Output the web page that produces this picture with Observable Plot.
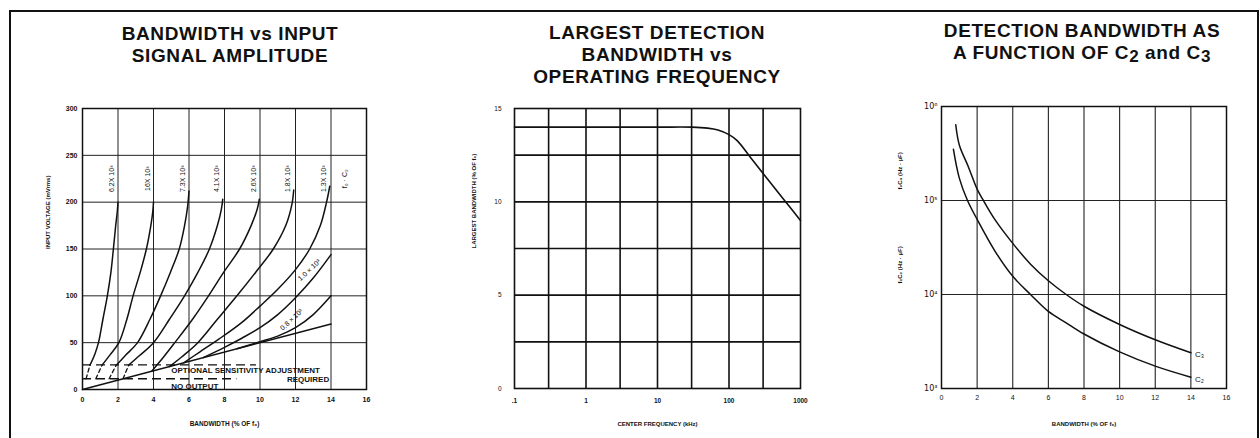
<!DOCTYPE html>
<html><head><meta charset="utf-8">
<script src="https://cdn.jsdelivr.net/npm/d3@7"></script>
<script src="https://cdn.jsdelivr.net/npm/@observablehq/plot@0.6"></script>
<style>
body{margin:0;background:#fff;}
#root{position:relative;width:1260px;height:438px;overflow:hidden;font-family:"Liberation Sans",Arial,sans-serif;background:#fff;}
.border{position:absolute;left:9px;top:10px;width:1246px;height:470px;border:2px solid #111;}
.title{position:absolute;text-align:center;font-weight:bold;font-size:19px;line-height:22px;letter-spacing:0.6px;color:#111;white-space:nowrap;transform:translateX(-50%);}
.sub{font-size:17px;position:relative;top:3px;}
.panel{position:absolute;top:90px;}
</style></head><body><div id="root">
<div class="border"></div>
<div class="title" style="left:230px;top:23px">BANDWIDTH vs INPUT<br>SIGNAL AMPLITUDE</div>
<div class="title" style="left:657px;top:22px">LARGEST DETECTION<br>BANDWIDTH vs<br>OPERATING FREQUENCY</div>
<div class="title" style="left:1082px;top:20px">DETECTION BANDWIDTH AS<br>A FUNCTION OF C<span class="sub">2</span> and C<span class="sub">3</span></div>
</div>
<script>
// ---------------- Panel 1: Bandwidth vs input signal amplitude ----------------
const p1XTicks = [0,2,4,6,8,10,12,14,16];
const p1YTicks = [0,50,100,150,200,250,300];
const p1GridX = [2,4,6,8,10,12,14];
const p1GridY = [50,100,150,200,250];
const f0c2Labels = ["6.2X 10³","16X 10³","7.3X 10³","4.1X 10³","2.6X 10³","1.8X 10³","1.3X 10³"];
const lowLabels = ["1.0 × 10³","0.8 × 10³"];
const c1x = [0.42,0.7,0.9,1.15,1.4,1.6,1.74,1.87,1.96,2.0];
const c1y = [26,38,50,75,100,125,150,175,190,200];
const c2x = [1.1,1.55,2.05,2.5,2.85,3.25,3.6,3.85,3.96,4.0];
const c2y = [26,37,50,75,100,125,150,175,190,200];
const c3x = [1.9,2.45,3.1,3.8,4.4,4.95,5.45,5.75,5.92,6.0];
const c3y = [26,37,50,75,100,125,150,175,195,212];
const c4x = [2.6,3.2,4.0,4.9,5.75,6.5,7.15,7.6,7.82,7.9];
const c4y = [26,36,50,75,100,125,150,175,192,203];
const c5x = [3.9,4.5,5.2,6.2,7.1,7.95,8.85,9.5,9.85,9.96];
const c5y = [19.5,33,50,75,100,125,150,175,193,203];
const c6x = [4.9,5.6,6.5,7.6,8.7,9.75,10.75,11.45,11.8,11.9];
const c6y = [24.5,35,50,75,100,125,150,175,198,213];
const c7x = [5.7,6.6,7.7,9.0,10.0,11.0,12.0,12.8,13.4,13.75,13.93];
const c7y = [28.5,40,54,72,89,107,128,150,175,200,217];
const c8x = [6.8,8,9,10,11,12,13,14];
const c8y = [34,45,55,66,80,98,119,144];
const c9x = [8.7,10,11,12,13,14];
const c9y = [43.5,51,57,66,80,100];
const envX = [0,14];
const envY = [0,70];
const dashExtX = [[0.2,0.42],[0.75,1.1],[1.5,1.9],[2.28,2.6]];
const dashExtY = [[11.4,26],[11.4,26],[11.4,26],[11.4,26]];
const sensLevels = [26.3, 11.4];
const sensEnds = [9.8, 8.7];

// ---------------- Panel 2: Largest detection bandwidth vs operating frequency ----------------
const p2XTicks = [0.1,1,10,100,1000];
const p2YTicks = [0,5,10,15];
const p2GridX = [0.3,1,3,10,30,100,300];
const p2GridY = [2.5,5,7.5,10,12.5];
const freqKHz = [0.1,1,10,30,50,70,100,130,200,300,500,700,1000];
const largestBW = [14,14,14,14,13.95,13.85,13.6,13.28,12.38,11.52,10.45,9.75,9.0];

// ---------------- Panel 3: Detection bandwidth as function of C2 and C3 ----------------
const p3XTicks = [0,2,4,6,8,10,12,14,16];
const p3YTicks = [1e3,1e4,1e5,1e6];
const p3GridX = [2,4,6,8,10,12,14];
const p3GridY = [1e4,1e5];
const c3bw = [0.8,1,1.5,2,2.3,3,4,5,6,7,8,10,12,14];
const c3val = [6.4e5,3.9e5,2.3e5,1.32e5,1.04e5,6.25e4,3.5e4,2.1e4,1.4e4,1.0e4,7.5e3,4.8e3,3.3e3,2.4e3];
const c2bw = [0.67,1,1.46,2,3,4,5,6,7,8,10,12,14];
const c2val = [3.5e5,1.73e5,1.0e5,6.3e4,2.9e4,1.56e4,1.0e4,6.6e3,5.0e3,3.8e3,2.45e3,1.73e3,1.32e3];

// ---------------- drawing ----------------
const FONT = "Liberation Sans, Arial, DejaVu Sans, sans-serif";
const INK = "#111";
const root = document.getElementById("root");
function place(svg, left){
  const d = document.createElement("div");
  d.className = "panel"; d.style.left = left + "px";
  d.appendChild(svg); root.appendChild(d);
}
const zip = (xs, ys, id) => xs.map((x, j) => ({id, x, y: ys[j]}));
const T = (o) => Object.assign({fontFamily: FONT, fill: INK}, o);

// Panel 1
const p1Series = [[c1x,c1y],[c2x,c2y],[c3x,c3y],[c4x,c4y],[c5x,c5y],[c6x,c6y],[c7x,c7y],[c8x,c8y],[c9x,c9y]];
const p1Lines = p1Series.flatMap(([xs,ys],i) => zip(xs, ys, i));
const p1Env = zip(envX, envY, "env");
const p1Dash = dashExtX.flatMap((xs,i) => zip(xs, dashExtY[i], i));
const p1Tops = p1Series.slice(0,7).map(([xs,ys],i) => ({x: xs[xs.length-1], text: f0c2Labels[i]}));
const p1Low = [{x: c8x[6], y: c8y[6], text: lowLabels[0]}, {x: c9x[3], y: c9y[3], text: lowLabels[1]}];
const p1Sens = sensLevels.map((y,i) => ({y, x2: sensEnds[i]}));

place(Plot.plot({
  width: 420, height: 348,
  marginLeft: 82, marginRight: 54, marginTop: 18, marginBottom: 49,
  style: {fontFamily: FONT, fontSize: "7px", fontWeight: "bold", color: INK, background: "transparent"},
  x: {domain: [0,16]},
  y: {domain: [0,300]},
  marks: [
    Plot.ruleX(p1GridX, {stroke: "#222", strokeWidth: 1}),
    Plot.ruleY(p1GridY, {stroke: "#222", strokeWidth: 1}),
    Plot.frame({stroke: INK, strokeWidth: 1.5}),
    Plot.axisX({ticks: p1XTicks, tickSize: 0, tickPadding: 8, label: null, fontSize: 7, fontWeight: "bold", fontFamily: FONT}),
    Plot.axisY({ticks: p1YTicks, tickSize: 0, tickPadding: 5, label: null, fontSize: 7, fontWeight: "bold", fontFamily: FONT}),
    Plot.ruleY(p1Sens, {y: "y", x1: () => 0, x2: "x2", stroke: INK, strokeWidth: 1.4, strokeDasharray: "9,5"}),
    Plot.line(p1Dash, {x: "x", y: "y", z: "id", stroke: INK, strokeWidth: 1.3, strokeDasharray: "4,3"}),
    Plot.line(p1Env, {x: "x", y: "y", stroke: INK, strokeWidth: 1.5}),
    Plot.line(p1Lines, {x: "x", y: "y", z: "id", stroke: INK, strokeWidth: 1.5, curve: "catmull-rom"}),
    Plot.text(p1Tops, T({x: "x", y: () => 225, text: "text", rotate: -90, dx: -6, fontSize: 7, fontWeight: "normal"})),
    Plot.text(["f₀ · C₂"], T({x: () => 14, y: () => 225, text: d => d, rotate: -90, dx: 14, fontSize: 7, fontWeight: "normal"})),
    Plot.text(p1Low, T({x: "x", y: "y", text: "text", rotate: -43, dx: -4, dy: -8, fontSize: 7, fontWeight: "normal"})),
    Plot.text(["OPTIONAL SENSITIVITY ADJUSTMENT"], T({x: () => 5, y: () => 17.4, text: d => d, textAnchor: "start", lineAnchor: "bottom", fontSize: 8, fontWeight: "bold", letterSpacing: "1.15px"})),
    Plot.text(["REQUIRED"], T({x: () => 13.9, y: () => 8.5, text: d => d, textAnchor: "end", lineAnchor: "bottom", fontSize: 8, fontWeight: "bold", letterSpacing: "1.1px"})),
    Plot.text(["NO OUTPUT"], T({x: () => 5, y: () => 0.4, text: d => d, textAnchor: "start", lineAnchor: "bottom", fontSize: 8, fontWeight: "bold", letterSpacing: "1.1px"})),
    Plot.text(["BANDWIDTH (% OF f₀)"], T({frameAnchor: "bottom", dy: 36, text: d => d, fontSize: 6.5, fontWeight: "bold", letterSpacing: "0.4px"})),
    Plot.text(["INPUT VOLTAGE (mVrms)"], T({frameAnchor: "left", dx: -34, text: d => d, rotate: -90, fontSize: 6, fontWeight: "bold"}))
  ]
}), 0);

// Panel 2
const p2Data = freqKHz.map((f,i) => ({f, b: largestBW[i]}));
place(Plot.plot({
  width: 420, height: 348,
  marginLeft: 94, marginRight: 40, marginTop: 18, marginBottom: 50,
  style: {fontFamily: FONT, fontSize: "7px", color: INK, background: "transparent"},
  x: {type: "log", domain: [0.1, 1000]},
  y: {domain: [0, 15]},
  marks: [
    Plot.ruleX(p2GridX, {stroke: INK, strokeWidth: 1.6}),
    Plot.ruleY(p2GridY, {stroke: INK, strokeWidth: 1.6}),
    Plot.frame({stroke: INK, strokeWidth: 1.6}),
    Plot.axisX({ticks: p2XTicks, tickSize: 0, tickPadding: 10, label: null, tickFormat: d => d === 0.1 ? ".1" : String(d), fontSize: 6.5, fontWeight: "bold", fontFamily: FONT}),
    Plot.axisY({ticks: p2YTicks, tickSize: 0, tickPadding: 13, label: null, fontSize: 6.5, fontWeight: "normal", fontFamily: FONT}),
    Plot.line(p2Data, {x: "f", y: "b", stroke: INK, strokeWidth: 1.6, curve: "catmull-rom"}),
    Plot.text(["CENTER FREQUENCY (kHz)"], T({frameAnchor: "bottom", dy: 37, text: d => d, fontSize: 6, fontWeight: "bold", letterSpacing: "0.4px"})),
    Plot.text(["LARGEST BANDWIDTH (% OF f₀)"], T({frameAnchor: "left", dx: -40, text: d => d, rotate: -90, fontSize: 6, fontWeight: "bold"}))
  ]
}), 420);

// Panel 3
const p3Lines = [...c3bw.map((x,i) => ({id: "C₃", x, y: c3val[i]})), ...c2bw.map((x,i) => ({id: "C₂", x, y: c2val[i]}))];
const p3Ends = [{x: c3bw[c3bw.length-1], y: c3val[c3val.length-1], t: "C₃"}, {x: c2bw[c2bw.length-1], y: c2val[c2val.length-1], t: "C₂"}];
const sup = {"3":"³","4":"⁴","5":"⁵","6":"⁶"};
place(Plot.plot({
  width: 420, height: 348,
  marginLeft: 101, marginRight: 34, marginTop: 16, marginBottom: 50,
  style: {fontFamily: FONT, fontSize: "7px", color: INK, background: "transparent"},
  x: {domain: [0, 16]},
  y: {type: "log", domain: [1e3, 1e6]},
  marks: [
    Plot.ruleX(p3GridX, {stroke: "#222", strokeWidth: 1.1}),
    Plot.ruleY(p3GridY, {stroke: "#222", strokeWidth: 1.1}),
    Plot.frame({stroke: INK, strokeWidth: 1.5}),
    Plot.axisX({ticks: p3XTicks, tickSize: 0, tickPadding: 7, label: null, fontSize: 7, fontWeight: "normal", fontFamily: FONT}),
    Plot.axisY({ticks: p3YTicks, tickSize: 0, tickPadding: 4, label: null, tickFormat: d => "10" + sup[String(Math.round(Math.log10(d)))], fontSize: 8, fontWeight: "normal", fontFamily: "DejaVu Sans, sans-serif"}),
    Plot.line(p3Lines, {x: "x", y: "y", z: "id", stroke: INK, strokeWidth: 1.5, curve: "catmull-rom"}),
    Plot.text(p3Ends, T({x: "x", y: "y", text: "t", textAnchor: "start", dx: 4, dy: 2, fontSize: 8})),
    Plot.text(["BANDWIDTH (% OF f₀)"], T({frameAnchor: "bottom", dy: 37, text: d => d, fontSize: 6, fontWeight: "bold", letterSpacing: "0.4px"})),
    Plot.text(["f₀C₃ (Hz · µF)"], T({frameAnchor: "left", dx: -41, dy: -58, text: d => d, rotate: -90, fontSize: 6, fontWeight: "bold"})),
    Plot.text(["f₀C₂ (Hz · µF)"], T({frameAnchor: "left", dx: -41, dy: 36, text: d => d, rotate: -90, fontSize: 6, fontWeight: "bold"}))
  ]
}), 840);
</script>
</body></html>
